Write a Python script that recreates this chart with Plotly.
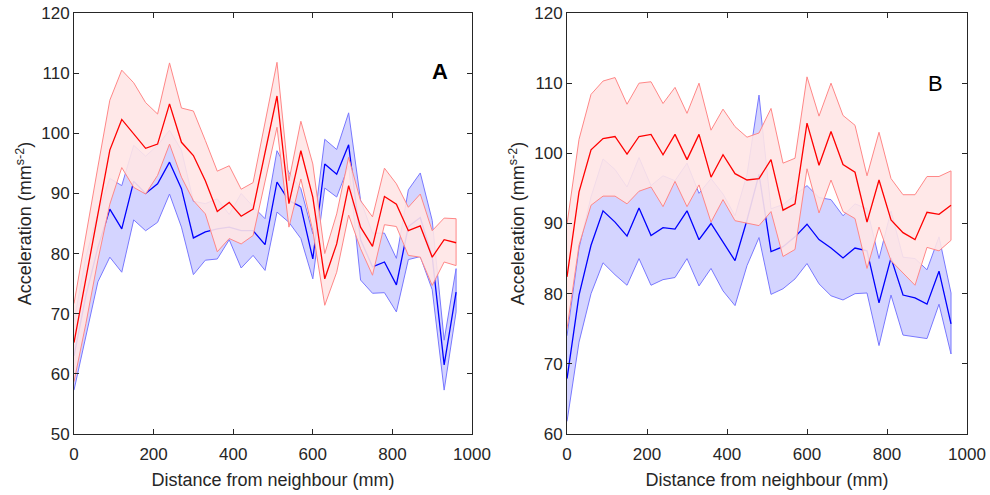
import plotly.graph_objects as go

distance_mm = [0, 30, 60, 90, 120, 150, 180, 210, 240, 270, 300, 330, 360, 390, 420, 450,
               480, 510, 540, 570, 600, 630, 660, 690, 720, 750, 780, 810, 840, 870, 900, 930, 960]

# Panel A
red_mean_A = [65.2, 76.0, 86.7, 97.2, 102.3, 99.9, 97.5, 98.2, 104.9, 98.5, 96.3, 92.1, 87.0, 88.5, 86.2, 87.4,
              96.6, 106.2, 88.3, 97.1, 89.4, 75.8, 81.6, 91.3, 84.4, 81.2, 89.5, 88.2, 83.8, 84.6, 79.4, 82.3, 81.8]
red_up_A = [71.7, 83.4, 94.4, 105.5, 110.5, 108.4, 105.1, 103.2, 111.7, 104.2, 103.7, 98.8, 93.7, 94.6, 90.7, 91.8,
            101.5, 111.8, 92.1, 102.0, 94.9, 80.0, 86.6, 96.0, 88.8, 86.1, 94.2, 91.6, 87.7, 89.9, 83.8, 85.9, 85.8]
red_lo_A = [58.7, 68.4, 78.9, 88.2, 94.3, 91.0, 89.9, 93.0, 98.2, 92.7, 88.8, 86.6, 80.3, 82.5, 81.6, 83.0,
            92.1, 101.0, 84.4, 92.4, 83.8, 71.4, 76.9, 86.4, 80.8, 76.4, 84.8, 84.5, 79.7, 79.4, 74.7, 78.6, 78.0]
blue_mean_A = [63.0, 73.0, 81.0, 87.4, 84.1, 92.0, 90.0, 91.6, 95.2, 90.8, 82.6, 83.6, 84.1, 84.4, 83.8, 83.8,
               81.5, 91.9, 88.8, 87.8, 79.1, 94.9, 93.2, 98.1, 82.3, 77.8, 78.6, 74.8, 84.5, 86.0, 79.5, 61.5, 73.6]
blue_lo_A = [57.3, 66.3, 75.3, 79.4, 76.9, 85.6, 83.8, 85.2, 89.9, 84.4, 76.5, 78.9, 79.1, 82.3, 77.6, 79.7,
             77.2, 86.9, 85.2, 82.5, 75.8, 90.9, 89.4, 94.6, 75.6, 73.4, 73.5, 70.3, 79.0, 79.5, 74.0, 57.3, 70.3]
blue_up_A = [68.7, 79.5, 86.7, 92.5, 91.3, 98.0, 96.2, 98.0, 100.5, 97.2, 88.7, 88.3, 89.1, 86.5, 90.0, 87.8,
             85.8, 97.1, 93.5, 90.8, 83.3, 99.0, 97.3, 103.4, 88.9, 83.4, 83.4, 79.2, 90.6, 93.4, 85.5, 65.6, 77.5]

# Panel B
red_mean_B = [82.4, 94.5, 100.5, 102.1, 102.4, 99.9, 102.4, 102.7, 99.8, 102.7, 99.1, 102.7, 96.6, 99.8, 97.1, 96.2,
              96.4, 99.1, 91.9, 92.8, 104.3, 98.3, 103.1, 98.4, 97.3, 90.2, 96.2, 90.5, 88.7, 87.7, 91.6, 91.3, 92.6]
red_up_B = [89.9, 102.0, 108.4, 110.3, 110.8, 107.0, 110.0, 110.2, 107.1, 109.4, 105.7, 110.0, 103.3, 106.3, 103.8, 102.3,
            102.9, 106.4, 98.6, 99.3, 110.9, 105.3, 110.0, 105.4, 104.0, 96.8, 103.0, 96.4, 94.1, 94.1, 96.7, 96.7, 97.5]
red_lo_B = [75.0, 86.9, 92.6, 93.9, 93.9, 92.8, 94.6, 95.2, 92.4, 96.0, 92.4, 95.5, 90.2, 93.4, 90.4, 90.0,
            89.7, 91.7, 85.3, 86.3, 97.8, 91.5, 96.2, 91.7, 90.7, 83.6, 89.5, 84.7, 82.9, 81.2, 86.6, 86.1, 87.6]
blue_mean_B = [67.9, 79.8, 86.9, 91.8, 90.2, 88.2, 92.2, 88.3, 89.4, 89.2, 91.8, 87.7, 90.0, 87.3, 84.7, 90.5,
               97.0, 86.0, 86.7, 88.1, 89.9, 87.7, 86.5, 85.1, 86.5, 86.1, 78.7, 85.1, 79.8, 79.4, 78.5, 83.2, 75.7]
blue_lo_B = [61.8, 73.1, 80.0, 84.4, 82.7, 81.2, 85.0, 81.2, 82.0, 82.3, 85.0, 81.1, 83.6, 80.4, 78.3, 84.0,
             88.0, 79.9, 80.7, 82.1, 84.3, 81.4, 79.7, 79.1, 80.0, 80.1, 72.6, 79.8, 74.1, 73.8, 73.6, 78.5, 71.4]
blue_up_B = [74.0, 86.5, 93.8, 99.2, 97.7, 95.2, 99.4, 95.4, 96.8, 96.1, 98.6, 94.3, 96.4, 94.2, 91.1, 97.0,
             108.3, 92.1, 92.7, 94.1, 95.4, 93.7, 93.4, 91.1, 92.8, 92.1, 85.0, 91.8, 85.2, 85.0, 83.4, 88.1, 80.1]

FONT = "Liberation Sans, Arial, sans-serif"
TXT = "#262626"

fig = go.Figure()


def add_band(x, up, lo, fillcolor, edgecolor, xa, ya):
    fig.add_trace(go.Scatter(
        x=list(x) + list(x)[::-1], y=list(up) + list(lo)[::-1],
        fill="toself", fillcolor=fillcolor, mode="lines",
        line=dict(color=edgecolor, width=1), xaxis=xa, yaxis=ya,
        hoverinfo="skip", showlegend=False))


def add_line(x, y, color, xa, ya):
    fig.add_trace(go.Scatter(x=x, y=y, mode="lines", line=dict(color=color, width=1.3),
                             xaxis=xa, yaxis=ya, showlegend=False))


panels = [
    ("x", "y", blue_up_A, blue_lo_A, blue_mean_A, red_up_A, red_lo_A, red_mean_A),
    ("x2", "y2", blue_up_B, blue_lo_B, blue_mean_B, red_up_B, red_lo_B, red_mean_B),
]
for xa, ya, bu, bl, bm, ru, rl, rm in panels:
    add_band(distance_mm, bu, bl, "rgba(0,0,255,0.17)", "rgba(120,120,255,1)", xa, ya)
    add_line(distance_mm, bm, "#0000ff", xa, ya)
    add_band(distance_mm, ru, rl, "rgba(255,230,230,0.9)", "rgba(255,135,135,1)", xa, ya)
    add_line(distance_mm, rm, "#ff0000", xa, ya)

axis_common = dict(showline=True, linecolor=TXT, linewidth=1, mirror="ticks", automargin=False,
                   ticks="inside", ticklen=5, tickcolor=TXT, showgrid=False, zeroline=False,
                   tickfont=dict(family=FONT, size=17, color=TXT))
xtitle = dict(text="Distance from neighbour (mm)", font=dict(family=FONT, size=18, color=TXT), standoff=9)
ytitle = dict(text="Acceleration (mm<sup>s-2</sup>)", font=dict(family=FONT, size=18, color=TXT), standoff=4)

fig.update_layout(
    width=990, height=495,
    margin=dict(l=74, r=23, t=13, b=61),
    plot_bgcolor="white", paper_bgcolor="white",
    xaxis=dict(domain=[0, 0.4457], range=[0, 1000], tickvals=[0, 200, 400, 600, 800, 1000],
               ticklabelstandoff=5, title=xtitle, **axis_common),
    yaxis=dict(domain=[0, 1], range=[50, 120], tickvals=[50, 60, 70, 80, 90, 100, 110, 120],
               title=ytitle, **axis_common),
    xaxis2=dict(domain=[0.5521, 1], range=[0, 1000], tickvals=[0, 200, 400, 600, 800, 1000], anchor="y2",
                ticklabelstandoff=5, title=xtitle, **axis_common),
    yaxis2=dict(domain=[0, 1], range=[60, 120], tickvals=[60, 70, 80, 90, 100, 110, 120], anchor="x2",
                title=ytitle, **axis_common),
    annotations=[
        dict(text="<b>A</b>", x=920, y=110.2, xref="x", yref="y", showarrow=False,
             font=dict(family=FONT, size=22, color="black")),
        dict(text="B", x=920, y=110.0, xref="x2", yref="y2", showarrow=False,
             font=dict(family=FONT, size=22, color="black")),
    ],
)

fig.write_html("out.html")
